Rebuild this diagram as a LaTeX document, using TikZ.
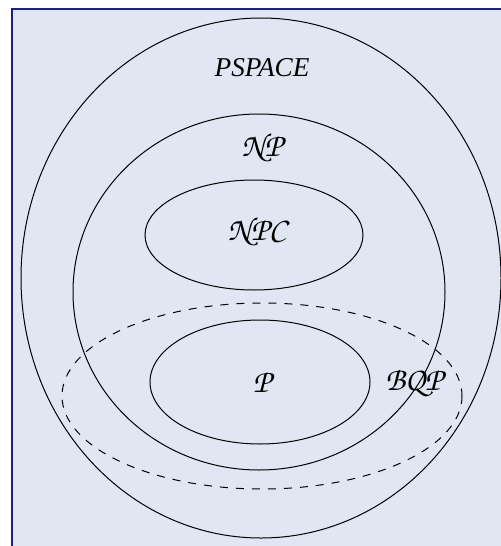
\documentclass[tikz,border=0pt]{standalone}
\usepackage{fontspec}
\setmainfont{Liberation Serif}
\usetikzlibrary{positioning}

\newcommand{\chancery}[1]{{\fontencoding{T1}\fontfamily{pzc}\fontseries{m}\fontshape{it}\fontsize{16.5}{19}\selectfont #1}}
\definecolor{panelfill}{RGB}{225,231,242}
\definecolor{panelline}{RGB}{30,30,140}

\begin{document}
\begin{tikzpicture}[x=0.5pt,y=-0.5pt,line width=0.5pt,
  classlabel/.style={inner sep=0pt,font=\fontsize{13.6}{16}\selectfont}]
\useasboundingbox (0,0) rectangle (500,546);
\draw[panelline,fill=panelfill,line width=1pt] (11.5,9) rectangle (530,560);
% complexity classes
\draw (261,278) ellipse [x radius=240,y radius=260];
\draw (259,292) ellipse [x radius=186,y radius=178];
\draw (254,235) ellipse [x radius=109,y radius=55];
\draw (260,382) ellipse [x radius=110,y radius=62];
\draw[dash pattern=on 4pt off 4pt] (262,396) ellipse [x radius=200,y radius=93];
\node[classlabel] (pspace) at (262,68) {\itshape PSPACE};
\node[classlabel] (np) at (262,148) {\chancery{NP}};
\node[classlabel] (npc) at (257,232) {\chancery{NPC}};
\node[classlabel] (p) at (262,382) {\chancery{P}};
\node[classlabel] (bqp) at (414,383) {\chancery{BQP}};
\end{tikzpicture}
\end{document}
